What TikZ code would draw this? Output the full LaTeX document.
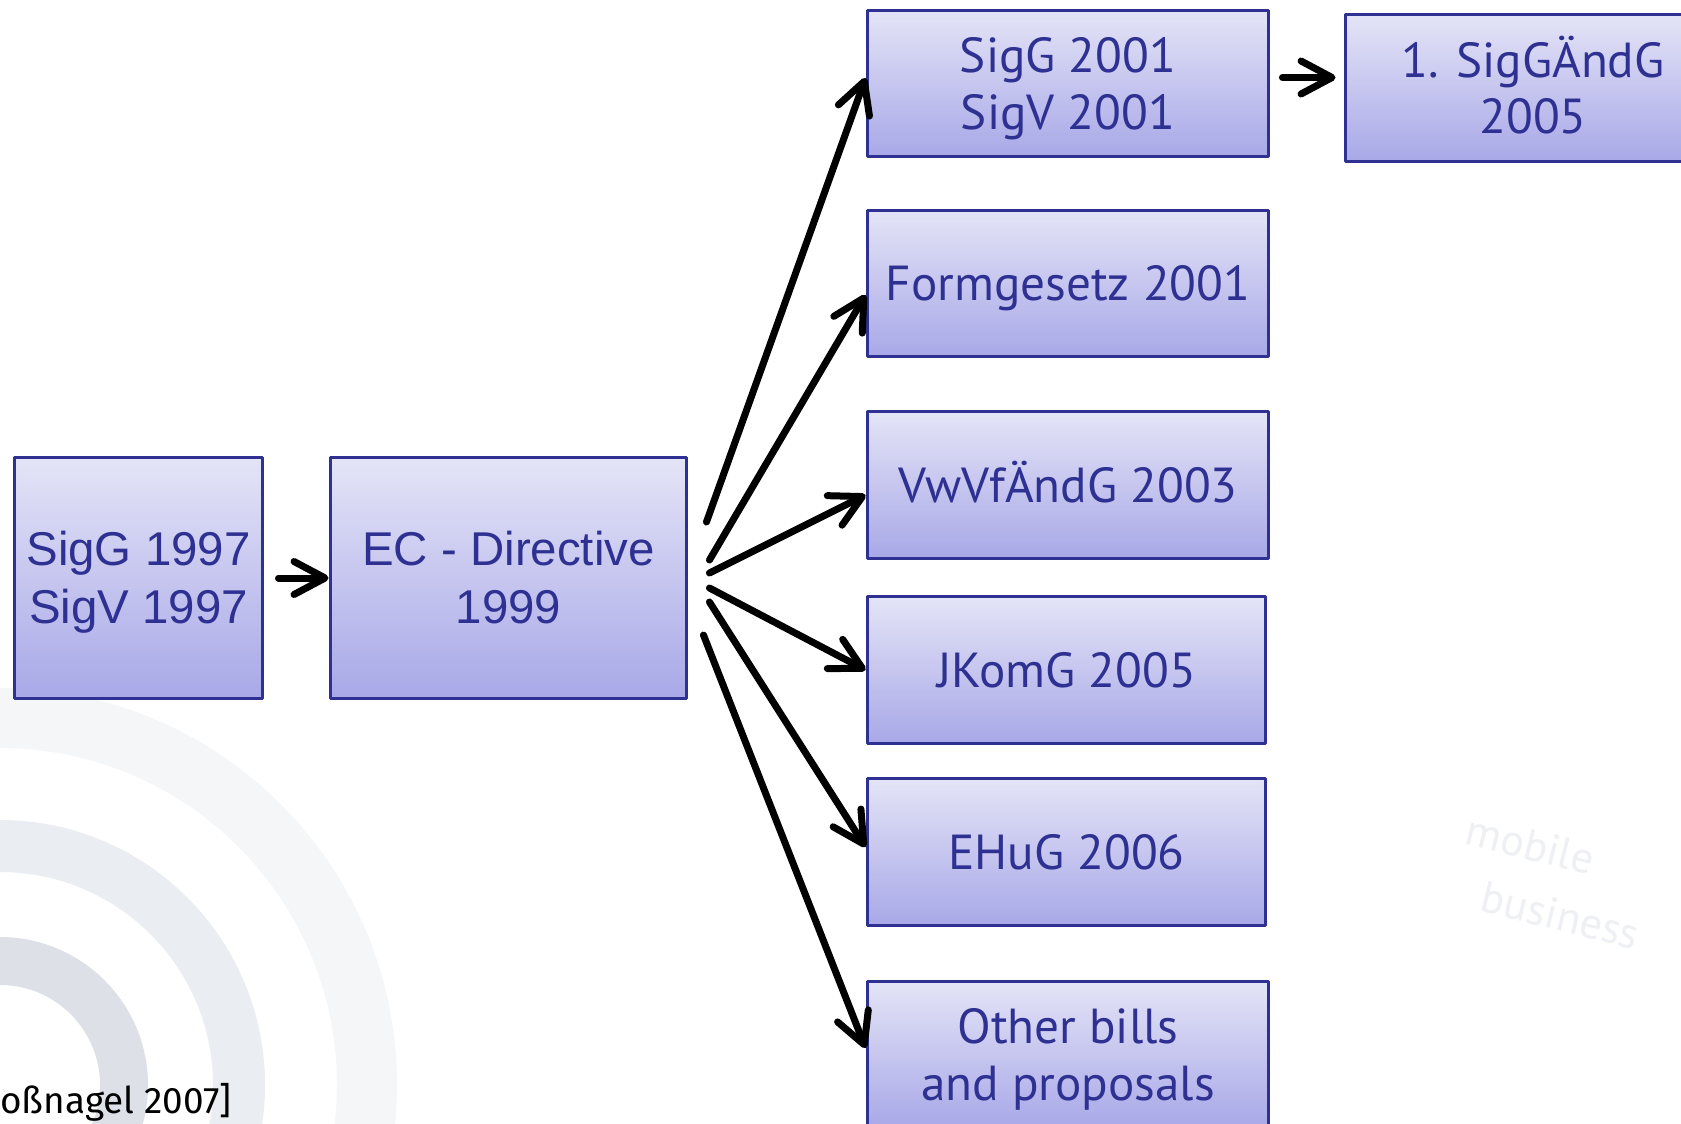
\documentclass[tikz,border=0pt]{standalone}
\usepackage{fontspec}
\setmainfont{PT Sans}
\newfontfamily\arialfont{Liberation Sans}
\newfontfamily\citefont{Fira Sans}
\usetikzlibrary{arrows.meta}
\definecolor{boxtop}{RGB}{228,228,247}
\definecolor{boxbot}{RGB}{168,168,232}
\definecolor{boxline}{RGB}{46,49,146}
\definecolor{ringA}{RGB}{221,225,231}
\definecolor{ringB}{RGB}{234,237,241}
\definecolor{ringC}{RGB}{245,246,248}
\definecolor{wmark}{RGB}{238,240,243}
\newcommand{\lawline}[1]{\rule[-0.25em]{0pt}{1.21em}\smash{#1}}
\tikzset{
  lawbox/.style={draw=boxline, line width=0.06cm, top color=boxtop, bottom color=boxbot,
    text=boxline, align=center, inner sep=0pt, minimum width=8.04cm, minimum height=2.94cm,
    font=\fontsize{28}{32.4}\selectfont},
  oldbox/.style={lawbox, minimum height=4.84cm, font=\arialfont\fontsize{27}{33}\selectfont},
  link/.style={line width=0.14cm, line cap=round,
    -{Straight Barb[length=0.62cm,width=0.66cm,line cap=round,line join=round]}}
}
\begin{document}
\begin{tikzpicture}[x=0.02cm, y=-0.02cm, line join=round]
  \lineskiplimit=-100pt\relax
  \useasboundingbox (0,0) rectangle (1681,1123);
  \fill[white] (0,0) rectangle (1681,1123);
  % background rings and logo
  \begin{scope}
    \clip (0,0) rectangle (1681,1123);
    \draw[ringA, line width=0.96cm] (0,1085) circle[radius=124];
    \draw[ringB, line width=1.04cm] (0,1085) circle[radius=239];
    \draw[ringC, line width=1.2cm] (0,1085) circle[radius=367];
  \end{scope}
  \node[rotate=-14, text=wmark, align=left, font=\fontsize{25}{35}\selectfont] (logo) at (1553,882) {mobile\\\hspace*{0.7em}business};
  % boxes
  \node[oldbox, minimum width=4.98cm] (sig97) at (138.5,578) {\lawline{SigG 1997}\\\lawline{SigV 1997}};
  \node[oldbox, minimum width=7.14cm] (ec) at (508.5,578) {\lawline{EC - Directive}\\\lawline{1999}};
  \node[lawbox] (sig01) at (1068,83.5) {\lawline{SigG 2001}\\\lawline{SigV 2001}};
  \node[lawbox] (form) at (1068,283.5) {\lawline{Formgesetz 2001}};
  \node[lawbox] (vwvf) at (1068,485) {\lawline{VwVfÄndG 2003}};
  \node[lawbox, minimum width=7.98cm] (jkom) at (1066.5,670) {\lawline{JKomG 2005}};
  \node[lawbox, minimum width=7.98cm] (ehug) at (1066.5,852) {\lawline{EHuG 2006}};
  \node[lawbox] (other) at (1068,1054.5) {\lawline{Other bills}\\\lawline{and proposals}};
  \node[lawbox, minimum width=7.52cm] (aend) at (1533,88) {\lawline{1. SigGÄndG}\\\lawline{2005}};
  \node[anchor=base west, inner sep=0pt, font=\citefont\fontsize{21}{25}\selectfont] (cite) at (0,1113) {oßnagel 2007]};
  % arrows
  \draw[link, shorten <=0.28cm] (sig97.east) -- (ec.west);
  \draw[link, shorten <=0.24cm, shorten >=0.16cm] ([yshift=0.12cm]sig01.east) -- ([yshift=0.12cm]sig01.east -| aend.west);
  \foreach \dest/\sx/\sy/\ey in {sig01/0.36/1.12/0.11, form/0.42/0.36/-0.23, vwvf/0.42/0.1/-0.2,
      jkom/0.42/-0.2/0, ehug/0.42/-0.48/0.1, other/0.3/-1.14/0.13}
    \draw[link] ([xshift=\sx cm, yshift=\sy cm]ec.east) -- ([yshift=\ey cm]\dest.west);
\end{tikzpicture}
\end{document}
